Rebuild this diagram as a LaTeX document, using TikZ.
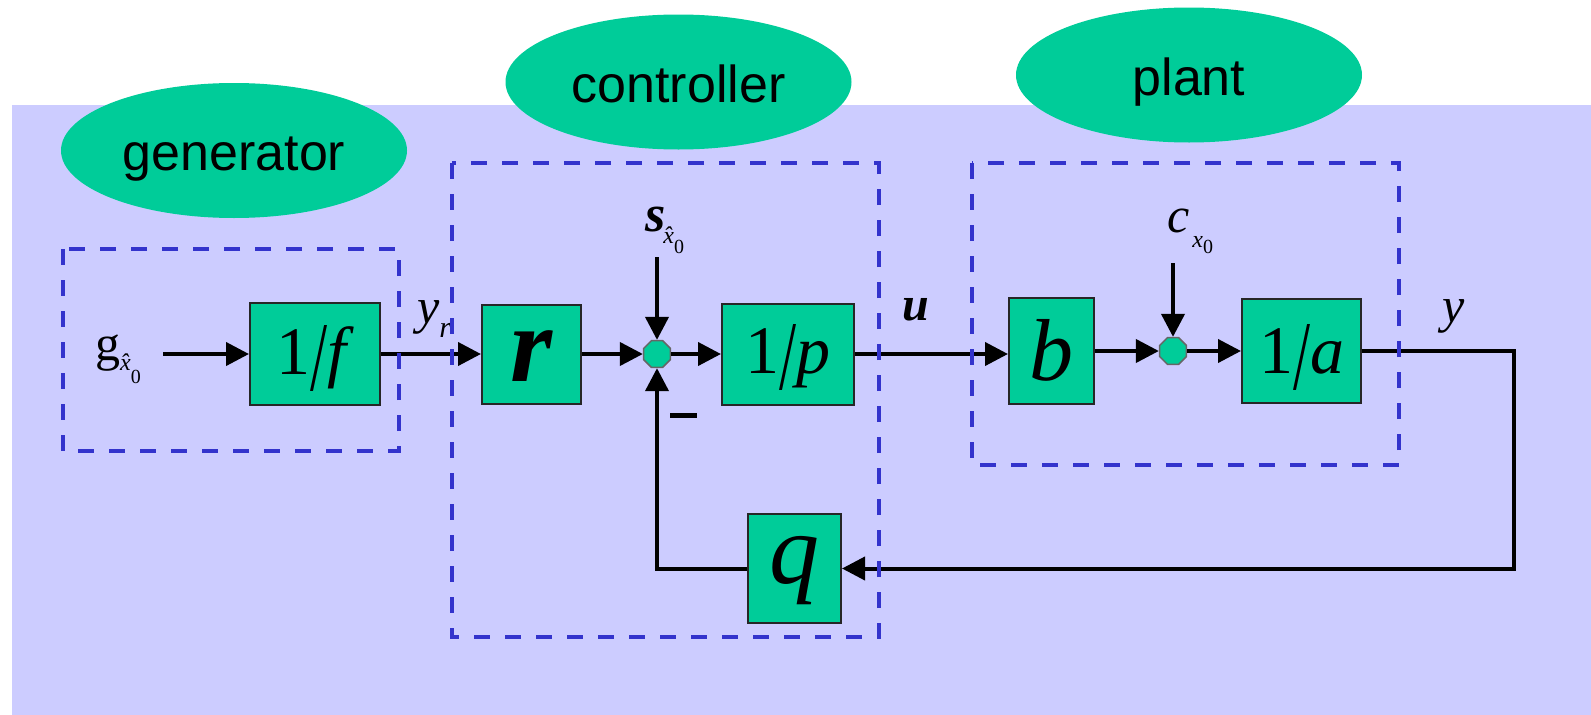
\documentclass[tikz,border=0pt]{standalone}
\usepackage{fontspec}
\setmainfont{Liberation Serif}
\newfontfamily\sansf{Liberation Sans}
\usepackage{graphicx}
\usetikzlibrary{shapes.geometric,arrows.meta,calc}
\definecolor{bgl}{HTML}{CCCCFF}
\definecolor{grn}{HTML}{00CC99}
\definecolor{dashblue}{HTML}{3333CC}
\newcommand\tallslash{\raisebox{-16pt}{\scalebox{0.9}[1.45]{/}}}
\newcommand\subxhat[2]{\raisebox{#1}{\fontsize{24}{24}\selectfont\mdseries\itshape \^x}\raisebox{#2}{\fontsize{20}{20}\selectfont\mdseries\upshape 0}}
\newcommand\subxplain[2]{\raisebox{#1}{\fontsize{24}{24}\selectfont\mdseries\itshape x}\raisebox{#2}{\fontsize{20}{20}\selectfont\mdseries\upshape 0}}
\begin{document}
\begin{tikzpicture}[x=1pt,y=-1pt,
  oval/.style={ellipse, fill=grn, minimum width=346pt, minimum height=135pt, inner sep=0pt,
    font=\sansf\fontsize{52}{52}\selectfont, text height=40pt, text depth=0pt},
  blk/.style={rectangle, draw=black!85, line width=2pt, fill=grn, inner sep=0pt,
    font=\fontsize{68}{68}\selectfont, text depth=0pt},
  sumj/.style={regular polygon, regular polygon sides=8, minimum size=29pt, inner sep=0pt,
    fill=grn, draw=black!60, line width=1.5pt},
  grp/.style={draw=dashblue, line width=4pt, dash pattern=on 16pt off 15pt},
  wire/.style={line width=4pt, draw=black},
  arr/.style={wire, -{Triangle[length=23pt,width=23pt]}},
  lbl/.style={inner sep=0pt, font=\fontsize{50}{50}\selectfont\itshape, anchor=base west},
]
\useasboundingbox (0,0) rectangle (1591,715);
\fill[bgl] (12,105) rectangle (1591,715);

% group labels
\node[oval] (gen) at (234,150.5) {generator};
\node[oval] (ctl) at (678.5,82) {controller};
\node[oval] (plt) at (1189,75) {plant};

% blocks
\node[blk, minimum width=130pt, minimum height=102pt, text height=40pt] (F) at (315,354) {1\tallslash\textit{f}};
\node[blk, minimum width=99pt, minimum height=99pt, text height=55pt,
  font=\fontsize{108}{108}\selectfont\bfseries\itshape] (R) at (531.5,354) {r};
\node[sumj] (S1) at (657,354) {};
\node[blk, minimum width=132pt, minimum height=101pt, text height=39pt] (P) at (788,354) {1\tallslash\textit{p}};
\node[blk, minimum width=93pt, minimum height=109pt, text height=29pt,
  font=\fontsize{100}{100}\selectfont\itshape] (Q) at (794.5,568.5) {q};
\node[blk, minimum width=85pt, minimum height=106pt, text height=58pt,
  font=\fontsize{88}{88}\selectfont\itshape] (B) at (1051.5,351) {b};
\node[sumj] (S2) at (1173,351) {};
\node[blk, minimum width=119pt, minimum height=104pt, text height=44pt] (A) at (1301.5,351) {1\tallslash\textit{a}};

% signal labels
\node[lbl, font=\fontsize{50}{50}\selectfont\upshape] (g) at (95,360) {g\subxhat{-10pt}{-23pt}};
\node[lbl] (yr) at (417,323) {y\raisebox{-14pt}{\fontsize{30}{30}\selectfont r}};
\node[lbl, font=\fontsize{48}{48}\selectfont\bfseries\itshape] (u) at (902,320) {u};
\node[lbl, font=\fontsize{52}{52}\selectfont\bfseries\itshape] (s) at (645,231) {s\kern-2pt\subxhat{-12pt}{-22pt}};
\node[lbl] (c) at (1167,232) {c\kern3pt\subxplain{-15pt}{-21pt}};
\node[lbl] (y) at (1442,322) {y};
\node[inner sep=0pt] (minus) at (683.5,415) {\rule{27pt}{5pt}};

\coordinate (sIn) at (657,257);
\coordinate (cIn) at (1173,263);
\coordinate (rt) at (1514,568.5);

% connectors
\draw[arr] ($(g.east |- F.west)+(22pt,0)$) -- (F.west);
\draw[arr] (F.east) -- (R.west);
\draw[arr] (R.east) -- (S1.west);
\draw[arr] (S1.east) -- (P.west);
\draw[arr] (P.east) -- (P.east -| B.west);
\draw[arr] (B.east) -- (S2.west);
\draw[arr] (S2.east) -- (A.west);
\draw[arr] (A.east) -| (rt) -- (Q.east);
\draw[arr] (Q.west) -| (S1.south);
\draw[arr] (sIn) -- (S1.north);
\draw[arr] (cIn) -- (S2.north);

% dashed groups
\draw[grp] (63,249) rectangle (399,451);
\draw[grp] (452,163) rectangle (879,637);
\draw[grp] (972,163) rectangle (1399,465);
\end{tikzpicture}
\end{document}
